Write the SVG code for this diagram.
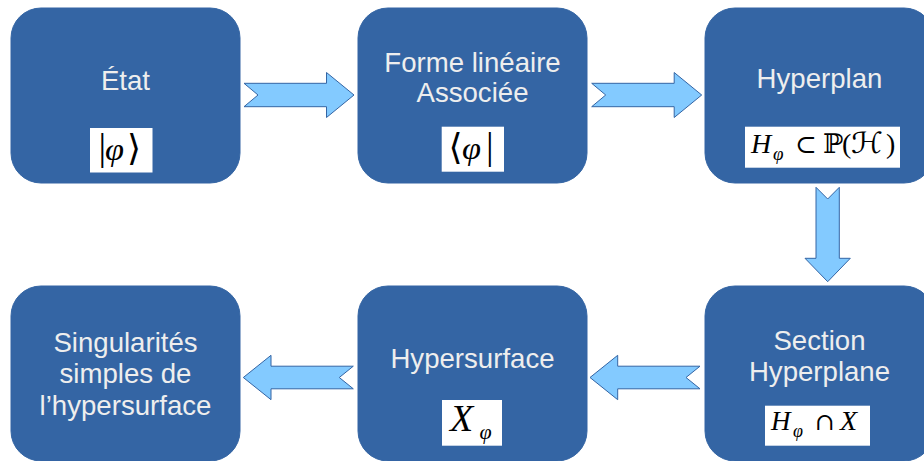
<svg xmlns="http://www.w3.org/2000/svg" width="924" height="461" viewBox="0 0 924 461">
<style>
.node{fill:#3465a4;stroke:#3465a4;stroke-width:1}
.lbl{font-family:"Liberation Sans",Arial,sans-serif;font-size:27.6px;fill:#eeeeee;text-anchor:middle}
.mbox{fill:#ffffff}
.m{font-family:"Liberation Serif","DejaVu Serif",serif;fill:#000000}
.mi{font-family:"Liberation Serif","DejaVu Serif",serif;font-style:italic;fill:#000000}
.phi{font-family:"Liberation Serif","DejaVu Serif",serif;font-style:italic;fill:#000000}
.sym{font-family:"DejaVu Serif","DejaVu Sans",serif;fill:#000000}
.arr{fill:#83caff;stroke:#3465a4;stroke-width:1;stroke-linejoin:miter}
</style>
<rect width="924" height="461" fill="#ffffff"/>

<g id="etat">
<rect class="node" x="11" y="8" width="229" height="175" rx="30"/>
<text class="lbl" x="125.5" y="90">État</text>
<rect class="mbox" x="90" y="128" width="62.5" height="44.5"/>
<text class="m" font-size="38" x="98.5" y="160">|</text>
<text class="phi" font-size="32" x="105" y="160" textLength="19" lengthAdjust="spacingAndGlyphs">φ</text>
<text class="sym" font-size="36" x="127" y="160">⟩</text>
</g>

<g id="forme">
<rect class="node" x="358" y="8" width="229" height="175" rx="30"/>
<text class="lbl" x="472.5" y="71.7">Forme linéaire</text>
<text class="lbl" x="472.5" y="102.3">Associée</text>
<rect class="mbox" x="441.7" y="126.7" width="62.3" height="45"/>
<text class="sym" font-size="36" x="448.5" y="159">⟨</text>
<text class="phi" font-size="32" x="462" y="159" textLength="19" lengthAdjust="spacingAndGlyphs">φ</text>
<text class="m" font-size="38" x="486" y="159">|</text>
</g>

<g id="hyperplan">
<rect class="node" x="705" y="8" width="229" height="175" rx="30"/>
<text class="lbl" x="819.5" y="88.3">Hyperplan</text>
<rect class="mbox" x="745" y="126.7" width="155" height="41"/>
<text class="mi" font-size="28" x="751" y="153.3">H</text>
<text class="phi" font-size="19" x="773" y="159.5">φ</text>
<text class="sym" font-size="26" x="795" y="153.3">⊂</text>
<text class="sym" font-size="27" x="823" y="153.3">ℙ</text>
<text class="m" font-size="28" x="842" y="153.3">(</text>
<text class="sym" font-size="29" x="851" y="153.3" textLength="32" lengthAdjust="spacingAndGlyphs">ℋ</text>
<text class="m" font-size="28" x="886" y="153.3">)</text>
</g>

<g id="singularites">
<rect class="node" x="11" y="286" width="229" height="175" rx="30"/>
<text class="lbl" x="125.5" y="351.7">Singularités</text>
<text class="lbl" x="125.5" y="383.3">simples de</text>
<text class="lbl" x="125.5" y="415">l’hypersurface</text>
</g>

<g id="hypersurface">
<rect class="node" x="358" y="286" width="229" height="175" rx="30"/>
<text class="lbl" x="472.5" y="367.7">Hypersurface</text>
<rect class="mbox" x="442" y="400" width="60" height="45.7"/>
<text class="mi" font-size="38" x="450" y="431">X</text>
<text class="phi" font-size="22" x="479.5" y="439">φ</text>
</g>

<g id="section">
<rect class="node" x="705" y="286" width="229" height="175" rx="30"/>
<text class="lbl" x="819.5" y="350">Section</text>
<text class="lbl" x="819.5" y="380.7">Hyperplane</text>
<rect class="mbox" x="765" y="405.7" width="105" height="40"/>
<text class="mi" font-size="27" x="771" y="430">H</text>
<text class="phi" font-size="18" x="793" y="437">φ</text>
<text class="sym" font-size="24" x="815" y="430">∩</text>
<text class="mi" font-size="28" x="840" y="430">X</text>
</g>

<g id="connectors">
<polygon class="arr" points="244,83.3 326.5,83.3 326.5,72.5 354,95 326.5,117.5 326.5,106.7 244,106.7 258,95"/>
<polygon class="arr" points="591.7,83.3 674.2,83.3 674.2,72.5 701.7,95 674.2,117.5 674.2,106.7 591.7,106.7 605.7,95"/>
<polygon class="arr" points="816,187.3 827.7,199 839.3,187.3 839.3,258.3 850.3,258.3 827.7,281.7 805,258.3 816,258.3"/>
<polygon class="arr" points="590,377.5 617.7,355.3 617.7,366.2 700,366.2 686,377.5 700,388.8 617.7,388.8 617.7,399.7"/>
<polygon class="arr" points="243.3,377.5 271,355.3 271,366.2 353.3,366.2 339.3,377.5 353.3,388.8 271,388.8 271,399.7"/>
</g>
</svg>
